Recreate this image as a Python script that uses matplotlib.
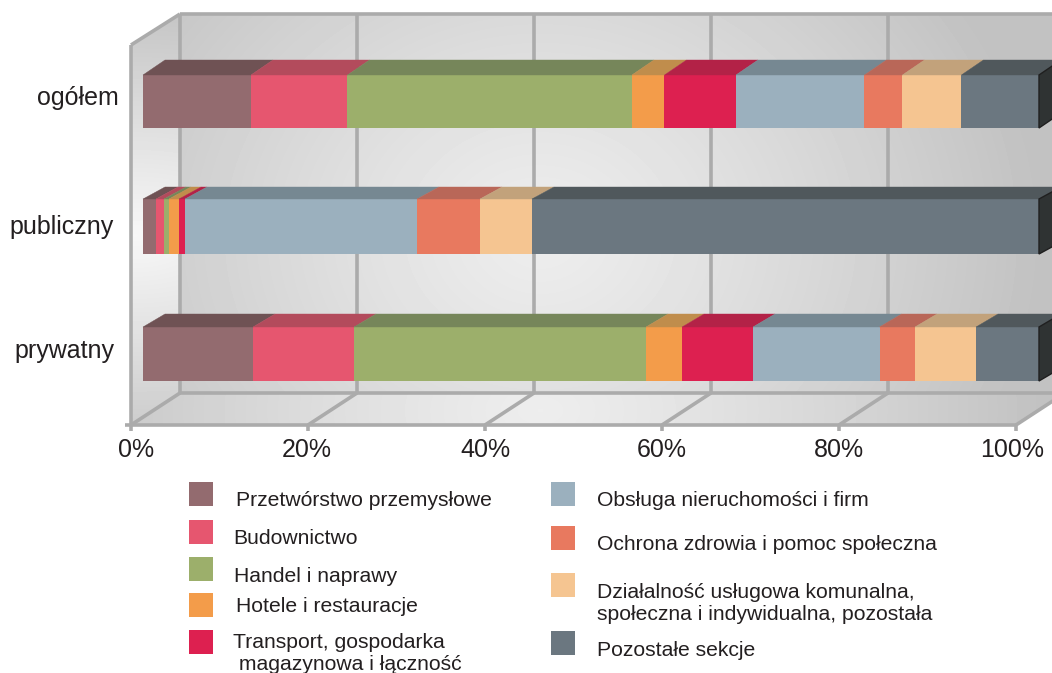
import numpy as np
from matplotlib import pyplot as plt
from matplotlib.patches import Polygon, Rectangle

plt.rcParams['font.family'] = ['Liberation Sans', 'DejaVu Sans']

#Data (share of each section in percent)
sectors = ['Przetwórstwo przemysłowe', 'Budownictwo', 'Handel i naprawy',
           'Hotele i restauracje', 'Transport, gospodarka\n magazynowa i łączność',
           'Obsługa nieruchomości i firm', 'Ochrona zdrowia i pomoc społeczna',
           'Działalność usługowa komunalna,\nspołeczna i indywidualna, pozostała',
           'Pozostałe sekcje']
ogolem = [12.05, 10.77, 31.75, 3.63, 7.98, 14.34, 4.24, 6.58, 8.66]
publiczny = [1.45, 0.89, 0.56, 1.12, 0.67, 25.89, 7.03, 5.80, 56.59]
prywatny = [12.28, 11.27, 32.59, 4.02, 7.92, 14.12, 3.96, 6.81, 7.03]
groups = ['ogółem', 'publiczny', 'prywatny']
tick_labels = ['0%', '20%', '40%', '60%', '80%', '100%']

#Colours of the front and the top of each section
front_colors = ['#936b6f', '#e6566f', '#9caf6b', '#f39c4a', '#dd2050',
                '#9bb0be', '#e8795f', '#f5c591', '#6b7780']
top_colors = ['#6f5254', '#b34b5c', '#76865a', '#c08d4c', '#b32247',
              '#768892', '#b96758', '#c2a27b', '#50585c']

W, H = 1052, 673
fig = plt.figure(figsize=(W / 100, H / 100), dpi=100)

#Background axes work in pixels, y going down
bg = fig.add_axes([0, 0, 1, 1], zorder=0)
bg.set_xlim(0, W)
bg.set_ylim(H, 0)
bg.axis('off')

#Light spot in the middle, grey towards the sides
def shade(x0, y0, x_scale, y_scale, low, high, power=1.2):
    xx, yy = np.meshgrid(np.arange(W), np.arange(H))
    r = np.sqrt(((xx - x0) / x_scale) ** 2 + ((yy - y0) / y_scale) ** 2)
    return high - (high - low) * np.clip(r, 0, 1) ** power

def wall(points, values):
    im = bg.imshow(values, cmap='gray', vmin=0, vmax=1, extent=(0, W, H, 0),
                   aspect='auto', zorder=1, interpolation='bilinear')
    patch = Polygon(points, closed=True, transform=bg.transData, fc='none', ec='none')
    bg.add_patch(patch)
    im.set_clip_path(patch)

left_x, wall_x, step = 131, 180, 177
top_y, back_y, front_y, corner_y = 14, 393, 425, 45

wall([(wall_x, top_y), (W, top_y), (W, back_y), (wall_x, back_y)],
     shade(540, 235, 500, 420, 0.76, 0.93))
wall([(left_x, corner_y), (wall_x, top_y), (wall_x, back_y), (left_x, front_y)],
     shade(135, 235, 400, 215, 0.78, 0.97, power=1.0))
wall([(left_x, front_y), (wall_x, back_y), (W, back_y), (W, 401), (1016, front_y)],
     shade(540, 410, 500, 300, 0.76, 0.93))

line_style = dict(color='#ababab', lw=2.6, zorder=2, solid_capstyle='butt')
#Tick labels sit a little off their ticks in the original
label_x = [136, 306.5, 485, 661.5, 838.5, 1012]
for k in range(6):
    bg.plot([wall_x + k * step] * 2, [top_y, back_y], **line_style)
    bg.plot([left_x + k * step, left_x + k * step + 49], [front_y, back_y], **line_style)
    bg.plot([left_x + k * step] * 2, [front_y, front_y + 6], **line_style)
    bg.text(label_x[k], 450, tick_labels[k], ha='center', va='center',
            fontsize=18, color='#231f20', zorder=5)
bg.plot([left_x, left_x], [corner_y, front_y], **line_style)
bg.plot([left_x, wall_x], [corner_y, top_y], **line_style)
bg.plot([wall_x, W], [top_y, top_y], **line_style)
bg.plot([wall_x, W], [back_y, back_y], **line_style)
bg.plot([125, 1016], [front_y, front_y], **line_style)

bg.set_xlim(0, W)
bg.set_ylim(H, 0)

#Group labels
for name, x, y in zip(groups, [119, 114, 114], [98, 227, 351]):
    bg.text(x, y, name, ha='right', va='center', fontsize=18, color='#231f20', zorder=5)

#Bars: x in percent, y in pixels
ax = fig.add_axes([143 / W, 0, (1039 - 143) / W, 1], zorder=1)
ax.set_xlim(0, 100)
ax.set_ylim(H, 0)
ax.axis('off')
ax.patch.set_alpha(0)

dx = 22 * 100 / 896
for values, y0, y1, depth in zip([ogolem, publiczny, prywatny],
                                 [75, 199, 327], [128, 254, 381], [15, 12, 13]):
    values = np.array(values)
    lefts = np.concatenate([[0], np.cumsum(values)[:-1]])
    ax.barh((y0 + y1) / 2, values, left=lefts, height=y1 - y0, color=front_colors, zorder=3)
    for l, v, c in zip(lefts, values, top_colors):
        ax.add_patch(Polygon([(l, y0), (l + v, y0), (l + v + dx, y0 - depth), (l + dx, y0 - depth)],
                             closed=True, fc=c, ec=c, lw=0.3, zorder=3, clip_on=False))
    end = lefts[-1] + values[-1]
    ax.add_patch(Polygon([(end, y0), (end + dx, y0 - depth), (end + dx, y1 - depth), (end, y1)],
                         closed=True, fc='#2f3333', ec='#1f1f1f', lw=1, zorder=3, clip_on=False))

#Legend placed by hand, the rows are not evenly spaced in the original
swatch_pos = [(189, 482), (189, 520), (189, 557), (189, 593), (189, 630),
              (551, 482), (551, 526), (551, 573), (551, 631)]
text_pos = [(236, 501), (233, 539), (234, 576), (236, 606), (233, 653),
            (597, 500), (597, 545), (597, 603), (597, 650)]
for name, c, (sx, sy), (tx, ty) in zip(sectors, front_colors, swatch_pos, text_pos):
    bg.add_patch(Rectangle((sx, sy), 24, 24, fc=c, ec='none', zorder=5))
    bg.text(tx, ty, name, ha='left', va='center', fontsize=15.25, color='#231f20',
            linespacing=1.2, zorder=5)

fig.savefig('out.png', dpi=100)
